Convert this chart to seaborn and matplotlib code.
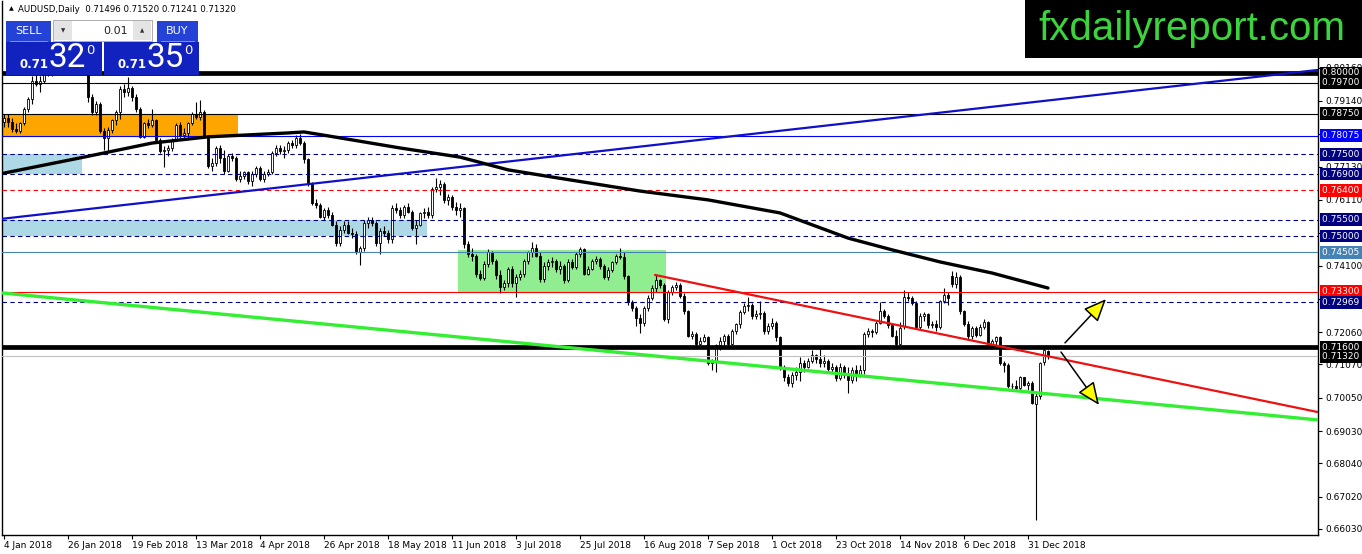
import numpy as np
import matplotlib
matplotlib.use("Agg")
import matplotlib.pyplot as plt
from matplotlib.patches import Rectangle
import seaborn as sns

sns.set_style("white")
plt.rcParams['font.family'] = ['DejaVu Sans']

# AUDUSD daily bars, 4 Jan 2018 .. 8 Jan 2019 (one entry per trading day)
opens = [
    .7850, .7862, .7850, .7828, .7822, .7845, .7890, .7920, .7975, .7965,
    .7975, .8000, .8010, .8005, .8020, .8080, .8060, .8100, .8080, .8050,
    .8060, .8065, .7925, .7880, .7905, .7822, .7800, .7825, .7855, .7880,
    .7950, .7940, .7955, .7925, .7890, .7805, .7845, .7840, .7855, .7795,
    .7760, .7765, .7770, .7795, .7840, .7810, .7815, .7845, .7875, .7865,
    .7880, .7805, .7715, .7725, .7770, .7740, .7700, .7745, .7740, .7675,
    .7685, .7695, .7670, .7690, .7710, .7675, .7690, .7695, .7755, .7770,
    .7760, .7765, .7785, .7780, .7800, .7785, .7735, .7660, .7600, .7595,
    .7560, .7580, .7565, .7535, .7480, .7520, .7535, .7510, .7505, .7450,
    .7465, .7540, .7550, .7540, .7480, .7515, .7510, .7490, .7585, .7580,
    .7565, .7590, .7575, .7525, .7535, .7570, .7575, .7565, .7645, .7650,
    .7660, .7610, .7620, .7590, .7580, .7585, .7475, .7445, .7440, .7385,
    .7372, .7415, .7450, .7425, .7380, .7345, .7355, .7400, .7355, .7375,
    .7385, .7425, .7450, .7465, .7440, .7368, .7410, .7420, .7425, .7398,
    .7410, .7365, .7420, .7405, .7445, .7460, .7385, .7400, .7425, .7430,
    .7410, .7375, .7395, .7420, .7440, .7435, .7378, .7298, .7280, .7250,
    .7235, .7280, .7310, .7340, .7365, .7350, .7245, .7330, .7345, .7350,
    .7318, .7270, .7195, .7200, .7170, .7180, .7190, .7110, .7115, .7165,
    .7180, .7195, .7170, .7210, .7230, .7268, .7285, .7290, .7255, .7262,
    .7265, .7210, .7225, .7235, .7190, .7100, .7068, .7050, .7075, .7085,
    .7110, .7100, .7118, .7135, .7125, .7110, .7118, .7092, .7100, .7065,
    .7100, .7075, .7058, .7090, .7075, .7090, .7200, .7210, .7205, .7235,
    .7270, .7255, .7228, .7195, .7170, .7225, .7315, .7310, .7295, .7222,
    .7255, .7262, .7228, .7232, .7222, .7300, .7320, .7378, .7352, .7375,
    .7270, .7232, .7195, .7220, .7198, .7222, .7238, .7170, .7180, .7190,
    .7112, .7105, .7042, .7040, .7035, .7068, .7045, .7050, .6985, .7010,
    .7115, .71496,
]
highs = [
    .7875, .7875, .7862, .7845, .7850, .7895, .7925, .7990, .7995, .7990,
    .8010, .8030, .8025, .8030, .8095, .8125, .8136, .8110, .8090, .8070,
    .8090, .8075, .7935, .7915, .7910, .7830, .7835, .7860, .7885, .7960,
    .7965, .7988, .7960, .7935, .7895, .7850, .7860, .7890, .7860, .7800,
    .7775, .7780, .7800, .7845, .7850, .7830, .7850, .7880, .7912, .7917,
    .7885, .7810, .7740, .7775, .7780, .7765, .7750, .7755, .7745, .7700,
    .7700, .7700, .7700, .7715, .7715, .7700, .7705, .7760, .7780, .7780,
    .7775, .7790, .7795, .7810, .7812, .7790, .7740, .7665, .7615, .7600,
    .7585, .7590, .7575, .7545, .7530, .7545, .7545, .7525, .7515, .7470,
    .7550, .7560, .7560, .7545, .7525, .7530, .7520, .7595, .7600, .7590,
    .7595, .7600, .7580, .7550, .7575, .7585, .7590, .7650, .7677, .7672,
    .7665, .7630, .7625, .7605, .7600, .7590, .7485, .7465, .7445, .7395,
    .7425, .7460, .7455, .7430, .7395, .7365, .7405, .7410, .7385, .7395,
    .7430, .7455, .7483, .7475, .7450, .7420, .7430, .7435, .7430, .7425,
    .7415, .7430, .7430, .7450, .7468, .7465, .7410, .7430, .7440, .7435,
    .7415, .7405, .7425, .7445, .7465, .7450, .7380, .7305, .7285, .7260,
    .7285, .7320, .7350, .7380, .7370, .7355, .7335, .7350, .7360, .7355,
    .7325, .7275, .7210, .7205, .7190, .7200, .7195, .7125, .7170, .7190,
    .7200, .7200, .7215, .7235, .7275, .7295, .7315, .7295, .7275, .7300,
    .7270, .7235, .7250, .7240, .7195, .7105, .7078, .7085, .7098, .7130,
    .7120, .7128, .7151, .7140, .7156, .7135, .7125, .7110, .7105, .7110,
    .7105, .7098, .7100, .7105, .7105, .7205, .7218, .7215, .7240, .7299,
    .7278, .7262, .7230, .7212, .7238, .7335, .7330, .7318, .7300, .7265,
    .7268, .7265, .7240, .7242, .7305, .7340, .7330, .7394, .7390, .7380,
    .7275, .7240, .7225, .7225, .7230, .7245, .7240, .7185, .7195, .7195,
    .7118, .7110, .7050, .7058, .7072, .7070, .7055, .7055, .7020, .7115,
    .7160, .71520,
]
lows = [
    .7835, .7835, .7820, .7815, .7815, .7840, .7880, .7905, .7960, .7940,
    .7970, .7990, .7990, .7995, .8015, .8035, .8050, .8060, .8035, .8020,
    .8040, .7910, .7870, .7870, .7815, .7765, .7758, .7815, .7840, .7860,
    .7925, .7930, .7915, .7880, .7800, .7800, .7830, .7835, .7790, .7755,
    .7712, .7745, .7760, .7790, .7800, .7795, .7800, .7840, .7860, .7855,
    .7800, .7710, .7700, .7715, .7725, .7690, .7695, .7730, .7670, .7665,
    .7675, .7660, .7655, .7680, .7670, .7665, .7685, .7690, .7745, .7750,
    .7740, .7755, .7770, .7770, .7780, .7725, .7655, .7595, .7585, .7555,
    .7550, .7555, .7530, .7470, .7470, .7510, .7505, .7495, .7445, .7412,
    .7455, .7525, .7530, .7470, .7445, .7500, .7480, .7480, .7570, .7555,
    .7555, .7570, .7520, .7475, .7530, .7555, .7555, .7555, .7635, .7625,
    .7600, .7595, .7580, .7565, .7560, .7465, .7435, .7425, .7375, .7365,
    .7365, .7405, .7415, .7370, .7325, .7335, .7345, .7345, .7315, .7365,
    .7375, .7415, .7435, .7435, .7360, .7360, .7395, .7405, .7390, .7385,
    .7355, .7360, .7400, .7400, .7435, .7380, .7380, .7395, .7415, .7400,
    .7370, .7365, .7390, .7415, .7430, .7370, .7290, .7270, .7225, .7202,
    .7225, .7270, .7305, .7330, .7340, .7240, .7235, .7320, .7335, .7310,
    .7260, .7190, .7185, .7160, .7160, .7175, .7105, .7090, .7085, .7150,
    .7165, .7160, .7165, .7200, .7220, .7260, .7270, .7245, .7245, .7245,
    .7200, .7200, .7215, .7180, .7090, .7055, .7040, .7038, .7060, .7055,
    .7085, .7095, .7110, .7110, .7100, .7100, .7085, .7080, .7055, .7060,
    .7065, .7020, .7050, .7055, .7070, .7078, .7190, .7192, .7200, .7230,
    .7250, .7220, .7190, .7162, .7160, .7215, .7300, .7290, .7215, .7215,
    .7240, .7220, .7218, .7210, .7215, .7295, .7290, .7345, .7340, .7260,
    .7225, .7185, .7185, .7190, .7195, .7215, .7160, .7165, .7165, .7105,
    .7085, .7035, .7030, .7028, .7030, .7040, .7030, .6985, .6631, .7000,
    .7105, .71241,
]
closes = [
    .7862, .7850, .7828, .7822, .7845, .7890, .7920, .7975, .7965, .7975,
    .8000, .8010, .8005, .8020, .8080, .8060, .8100, .8080, .8050, .8060,
    .8065, .7925, .7880, .7905, .7822, .7800, .7825, .7855, .7880, .7950,
    .7940, .7955, .7925, .7890, .7805, .7845, .7840, .7855, .7795, .7760,
    .7765, .7770, .7795, .7840, .7810, .7815, .7845, .7875, .7865, .7880,
    .7805, .7715, .7725, .7770, .7740, .7700, .7745, .7740, .7675, .7685,
    .7695, .7670, .7690, .7710, .7675, .7690, .7695, .7755, .7770, .7760,
    .7765, .7785, .7780, .7800, .7785, .7735, .7660, .7600, .7595, .7560,
    .7580, .7565, .7535, .7480, .7520, .7535, .7510, .7505, .7450, .7465,
    .7540, .7550, .7540, .7480, .7515, .7510, .7490, .7585, .7580, .7565,
    .7590, .7575, .7525, .7535, .7570, .7575, .7565, .7645, .7650, .7660,
    .7610, .7620, .7590, .7580, .7585, .7475, .7445, .7440, .7385, .7372,
    .7415, .7450, .7425, .7380, .7345, .7355, .7400, .7355, .7375, .7385,
    .7425, .7450, .7465, .7440, .7368, .7410, .7420, .7425, .7398, .7410,
    .7365, .7420, .7405, .7445, .7460, .7385, .7400, .7425, .7430, .7410,
    .7375, .7395, .7420, .7440, .7435, .7378, .7298, .7280, .7250, .7235,
    .7280, .7310, .7340, .7365, .7350, .7245, .7330, .7345, .7350, .7318,
    .7270, .7195, .7200, .7170, .7180, .7190, .7110, .7115, .7165, .7180,
    .7195, .7170, .7210, .7230, .7268, .7285, .7290, .7255, .7262, .7265,
    .7210, .7225, .7235, .7190, .7100, .7068, .7050, .7075, .7085, .7110,
    .7100, .7118, .7135, .7125, .7110, .7118, .7092, .7100, .7065, .7100,
    .7075, .7058, .7090, .7075, .7090, .7200, .7210, .7205, .7235, .7270,
    .7255, .7228, .7195, .7170, .7220, .7315, .7310, .7295, .7222, .7255,
    .7262, .7228, .7232, .7222, .7300, .7320, .7310, .7352, .7375, .7270,
    .7232, .7195, .7220, .7198, .7222, .7238, .7170, .7180, .7190, .7112,
    .7105, .7042, .7040, .7035, .7068, .7045, .7050, .6990, .7010, .7110,
    .7150, .71320,
]

# 200-day moving average (read at a few bars)
ma_bars = [0, 20, 37, 51, 71, 75, 81, 99, 114, 126, 137, 159, 176, 194, 211, 222, 234, 247, 261]
ma_vals = [0.7693, 0.7742, 0.7785, 0.7804, 0.7816, 0.7819, 0.7807, 0.7770, 0.7742, 0.7703,
           0.7681, 0.7638, 0.7611, 0.7571, 0.7494, 0.7458, 0.7421, 0.7387, 0.7341]

# horizontal levels with their price tags
level_prices = [0.80000, 0.79700, 0.78750, 0.78075, 0.77500, 0.76900, 0.76400,
                0.75500, 0.75000, 0.74505, 0.73300, 0.72969, 0.71600, 0.71320]
level_colors = ['black', 'black', 'black', '#0000ff', '#000080', '#000080', '#ff0000',
                '#000080', '#000080', '#4682b4', '#ff0000', '#000080', 'black', '#c0c0c0']
tag_colors = ['black', 'black', 'black', '#0000ff', '#000080', '#000080', '#ff0000',
              '#000080', '#000080', '#4682b4', '#ff0000', '#000080', 'black', 'black']
level_kind = ['thick', 'thin', 'thin', 'thin', 'dash', 'dash', 'dash',
              'dash', 'dash', 'thin', 'thin', 'dash', 'thick', 'thin']

# shaded zones (bar from, bar to, price low, price high)
zone_from = [-0.5, -0.5, -0.5, 113.5]
zone_to = [58.5, 19.5, 105.75, 165.5]
zone_low = [0.78075, 0.76900, 0.75000, 0.73300]
zone_high = [0.78750, 0.77500, 0.75500, 0.74580]
zone_colors = ['#ffa500', '#add8e6', '#add8e6', '#90ee90']

# trend lines (two anchor points each)
blue_x, blue_y = [-0.5, 328.5], [0.7553, 0.8009]
green_x, green_y = [-0.5, 328.5], [0.7326, 0.6937]
red_x, red_y = [162.75, 328.5], [0.7381, 0.6961]

# scenario arrows (from, to)
arrow_up = [(265.25, 0.7173), (275.5, 0.7307)]
arrow_down = [(264.25, 0.7145), (273.75, 0.6983)]

# price scale; the ones under a price tag are not readable on the chart
yticks = [0.66030, 0.67020, 0.68040, 0.69030, 0.70050, 0.71070, 0.72060, 0.73080,
          0.74100, 0.75090, 0.76110, 0.77130, 0.78120, 0.79140, 0.80160]
hidden_ticks = [0.73080, 0.75090, 0.78120]
date_labels = ['4 Jan 2018', '26 Jan 2018', '19 Feb 2018', '13 Mar 2018', '4 Apr 2018',
               '26 Apr 2018', '18 May 2018', '11 Jun 2018', '3 Jul 2018', '25 Jul 2018',
               '16 Aug 2018', '7 Sep 2018', '1 Oct 2018', '23 Oct 2018', '14 Nov 2018',
               '6 Dec 2018', '31 Dec 2018']

W, H = 1362, 554
fig = plt.figure(figsize=(W / 100, H / 100), dpi=100)
ax = fig.add_axes([2 / W, 19 / H, 1316 / W, 534 / H])

# zones
for x0, x1, lo, hi, col in zip(zone_from, zone_to, zone_low, zone_high, zone_colors):
    ax.add_patch(Rectangle((x0, lo), x1 - x0, hi - lo, fc=col, ec='none', zorder=1))

# candles
o = np.array(opens)
h = np.array(highs)
l = np.array(lows)
c = np.array(closes)
x = np.arange(len(c))
ax.vlines(x, l, h, color='black', lw=0.8, zorder=3)
up = c >= o
ax.bar(x[up], (c - o)[up], bottom=o[up], width=0.72, color='white',
       edgecolor='black', linewidth=0.6, zorder=4)
ax.bar(x[~up], (o - c)[~up], bottom=c[~up], width=0.72, color='black',
       edgecolor='black', linewidth=0.6, zorder=4)

# horizontal levels
for p, col, kind in zip(level_prices, level_colors, level_kind):
    if kind == 'thick':
        ax.axhline(p, color=col, lw=3.4, zorder=5)
    elif kind == 'dash':
        ax.axhline(p, color=col, lw=0.8, dashes=(4, 3), zorder=5)
    else:
        ax.axhline(p, color=col, lw=0.8, zorder=5)

# trend lines
ax.plot(blue_x, blue_y, color='#1010c8', lw=1.6, zorder=6)
ax.plot(green_x, green_y, color='#33ee33', lw=2.4, zorder=6)
ax.plot(red_x, red_y, color='#ee1111', lw=1.6, zorder=6)

# moving average
sns.lineplot(x=ma_bars, y=ma_vals, ax=ax, color='black', lw=2.4, zorder=7)

# arrows
for a in (arrow_up, arrow_down):
    ax.annotate('', xy=a[1], xytext=a[0], zorder=8,
                arrowprops=dict(arrowstyle='-|>,head_length=0.7,head_width=0.3',
                                fc='#ffff00', ec='black', lw=1.1, mutation_scale=20,
                                shrinkA=0, shrinkB=0))

ax.set_xlim(-0.5, 328.5)
ax.set_ylim(0.65846, 0.82201)

# axes / ticks
for s in ['left', 'bottom', 'right']:
    ax.spines[s].set_visible(True)
    ax.spines[s].set_color('black')
    ax.spines[s].set_linewidth(1)
ax.spines['top'].set_visible(False)
ax.yaxis.tick_right()
ax.set_yticks(yticks)
ax.set_yticklabels(['' if v in hidden_ticks else f'{v:.5f}' for v in yticks])
ax.tick_params(axis='y', which='both', right=True, left=False, length=3, width=0.8,
               direction='out', labelsize=6.5, pad=2, colors='black')
ax.set_xticks(list(range(0, 16 * len(date_labels), 16)))
ax.set_xticklabels(date_labels, ha='left')
ax.tick_params(axis='x', bottom=True, length=3, width=0.8, direction='out',
               labelsize=6.5, pad=1, colors='black')
ax.set_xlabel('')
ax.set_ylabel('')

# price tags on the right axis
for p, col in zip(level_prices, tag_colors):
    ax.text(1 + 4 / 1316, p, f'{p:.5f} ', transform=ax.get_yaxis_transform(),
            ha='left', va='center', fontsize=6.5, color='white', zorder=20, clip_on=False,
            bbox=dict(boxstyle='square,pad=0.2', fc=col, ec='none'))

# overlay in pixel space: title, trade panel, watermark
ov = fig.add_axes([0, 0, 1, 1], zorder=10)
ov.set_xlim(0, W)
ov.set_ylim(H, 0)
ov.axis('off')
ov.patch.set_visible(False)


def box(x0, y0, x1, y1, fc, ec='none', lw=0):
    ov.add_patch(Rectangle((x0, y0), x1 - x0, y1 - y0, fc=fc, ec=ec, lw=lw))


ov.text(11, 9, '▲', fontsize=4.5, ha='center', va='center', color='black')
ov.text(18, 9, 'AUDUSD,Daily  ' + ' '.join(f'{v:.5f}' for v in
        (opens[-1], highs[-1], lows[-1], closes[-1])),
        fontsize=6.2, ha='left', va='center', color='black')

btn = '#2442d6'
box(6, 21, 51, 42, btn)
box(157, 21, 198, 42, btn)
box(6, 42, 102, 75, '#1222bf')
box(104, 42, 199, 75, '#1222bf')
ov.plot([10, 47], [41, 41], color='#8fa0f0', lw=0.6)
ov.plot([161, 194], [41, 41], color='#8fa0f0', lw=0.6)
box(53, 20, 152, 41, 'white', ec='#a0a0a0', lw=0.6)
box(54, 21, 72, 40, '#e4e4e4')
box(133, 21, 151, 40, '#e4e4e4')
ov.text(63, 31, '▼', fontsize=4, ha='center', va='center', color='#333333')
ov.text(142, 31, '▲', fontsize=4, ha='center', va='center', color='#333333')
ov.text(128, 31, '0.01', fontsize=8, ha='right', va='center', color='#222222')
ov.text(28.5, 31, 'SELL', fontsize=8, ha='center', va='center', color='white')
ov.text(177.5, 31, 'BUY', fontsize=8, ha='center', va='center', color='white')
for x0, big in ((20, '32'), (118, '35')):
    ov.text(x0, 64.5, '0.71', fontsize=8.5, fontweight='bold', ha='left', va='center',
            color='white')
    ov.text(x0 + 28, 58, big, fontsize=24, family='Roboto', ha='left', va='center',
            color='white')
    ov.text(x0 + 66, 50, '0', fontsize=9.5, ha='left', va='center', color='white')

box(1025, 0, W, 58, 'black')
ov.text(1192, 29, 'fxdailyreport.com', fontsize=29, family='Liberation Sans',
        ha='center', va='center', color='#3cd43c')

fig.savefig('out.png', dpi=100)
